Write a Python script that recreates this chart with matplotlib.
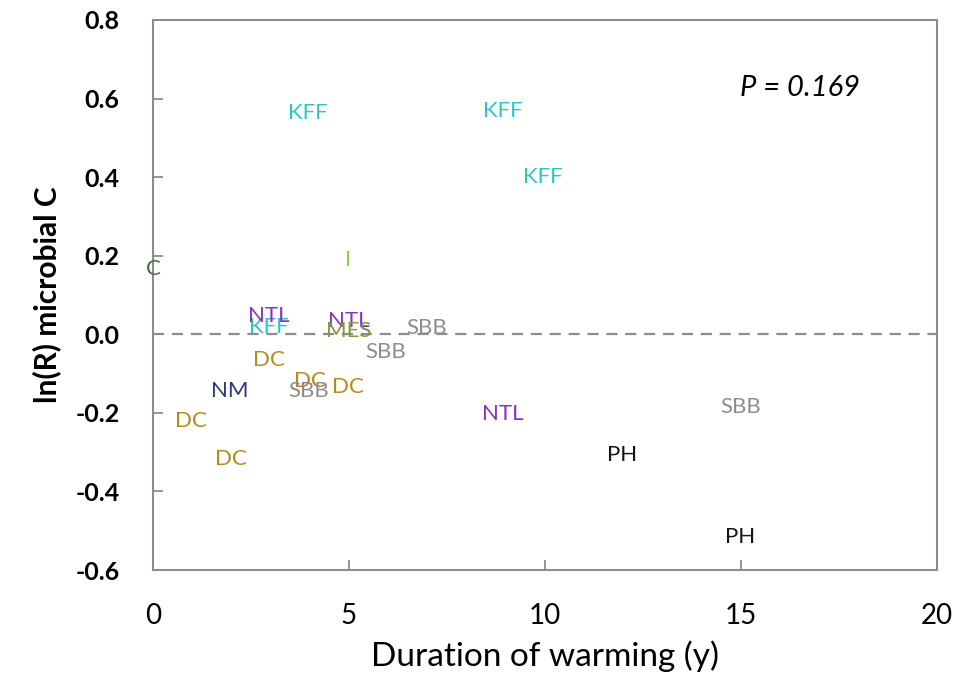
import numpy as np
import matplotlib
matplotlib.use('Agg')
import matplotlib.pyplot as plt

plt.rcParams['font.family'] = ['Lato', 'DejaVu Sans']
plt.rcParams['axes.unicode_minus'] = False

# site labels, duration of warming (y), ln(R) microbial C
sites = ['C', 'KFF', 'KFF', 'KFF', 'I', 'KFF', 'NTL', 'NTL', 'MES', 'SBB', 'SBB',
         'DC', 'DC', 'SBB', 'DC', 'NM', 'DC', 'DC', 'NTL', 'SBB', 'PH', 'PH']
duration = [0.0, 3.95, 8.93, 9.95, 4.97, 2.96, 2.96, 5.0, 5.0, 6.99, 5.94,
            2.96, 4.0, 3.98, 4.97, 1.96, 0.97, 1.99, 8.93, 15.0, 11.96, 14.97]
lnR = [0.165, 0.562, 0.567, 0.40, 0.188, 0.018, 0.046, 0.033, 0.008, 0.015, -0.046,
       -0.066, -0.12, -0.145, -0.135, -0.145, -0.221, -0.318, -0.204, -0.186, -0.308, -0.517]

site_colors = {
    'C': '#4f6b45', 'KFF': '#2ec4c8', 'I': '#8fcf55', 'NTL': '#8a32c2',
    'MES': '#819a3c', 'SBB': '#8e8e8e', 'DC': '#b8891c', 'NM': '#2f3580',
    'PH': '#151515',
}

fig = plt.figure(figsize=(9.58, 6.88), dpi=100)
ax = fig.add_axes([0.1597, 0.1715, 0.8183, 0.7995])

ax.axhline(0, color='#8c8c8c', lw=1.6, ls=(0, (5, 3.5)), zorder=1)

for s, x, y in zip(sites, duration, lnR):
    ax.text(x, y, s, color=site_colors[s], fontsize=16, ha='center', va='center', zorder=3)

ax.text(16.5, 0.626, 'P = 0.169', fontsize=21, style='italic', ha='center', va='center')

ax.set_xlim(0, 20)
ax.set_ylim(-0.6, 0.8)
ax.set_xticks([0, 5, 10, 15, 20])
ax.set_yticks(np.arange(-0.6, 0.81, 0.2))
ax.set_yticklabels(['%.1f' % v for v in np.arange(-0.6, 0.81, 0.2)])

for sp in ax.spines.values():
    sp.set_color('#8c8c8c')
    sp.set_linewidth(1.5)

ax.tick_params(axis='both', direction='in', length=7, width=1.3, color='#8c8c8c')
ax.tick_params(axis='y', pad=24, labelsize=18)
ax.tick_params(axis='x', pad=24, labelsize=20)
for lab in ax.get_yticklabels():
    lab.set_fontweight('bold')
ax.tick_params(top=False, right=False)

ax.set_xlabel('Duration of warming (y)', fontsize=24, labelpad=8)
ax.set_ylabel('ln(R) microbial C', fontsize=21.5, fontweight='bold', labelpad=10)

fig.savefig('out.png', dpi=100)
